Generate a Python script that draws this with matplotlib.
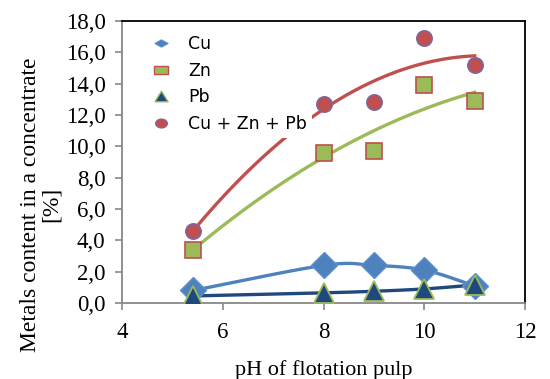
import numpy as np
from matplotlib import pyplot as plt
from matplotlib.lines import Line2D
from matplotlib.path import Path
from matplotlib.ticker import FuncFormatter

# pH of flotation pulp
ph = [5.4, 8, 9, 10, 11]

cu = [0.8, 2.4, 2.4, 2.1, 1.1]
zn = [3.4, 9.6, 9.7, 13.9, 12.9]
pb = [0.45, 0.65, 0.75, 0.9, 1.15]
total = [4.6, 12.7, 12.8, 16.9, 15.2]

names = ["Cu", "Zn", "Pb", "Cu + Zn + Pb"]


def smooth(xs, ys, n=30):
    # catmull-rom, like the excel "smoothed line"
    xs = np.asarray(xs, float)
    ys = np.asarray(ys, float)
    px = np.concatenate([[2 * xs[0] - xs[1]], xs, [2 * xs[-1] - xs[-2]]])
    py = np.concatenate([[2 * ys[0] - ys[1]], ys, [2 * ys[-1] - ys[-2]]])
    ox, oy = [], []
    for i in range(1, len(px) - 2):
        t = np.linspace(0, 1, n)
        for p, o in ((px, ox), (py, oy)):
            p0, p1, p2, p3 = p[i - 1], p[i], p[i + 1], p[i + 2]
            o.extend(0.5 * (2 * p1 + (-p0 + p2) * t
                            + (2 * p0 - 5 * p1 + 4 * p2 - p3) * t**2
                            + (-p0 + 3 * p1 - 3 * p2 + p3) * t**3))
    return ox, oy


plt.rcParams['font.family'] = ['Liberation Serif', 'DejaVu Serif']

fig = plt.figure(figsize=(5.5, 3.79), dpi=100)
ax = fig.add_axes([0.222, 0.2005, 0.7327, 0.744])

xx = np.linspace(ph[0], ph[-1], 100)

# trend lines
ax.plot(xx, np.polyval(np.polyfit(ph, total, 2), xx), color="#C0504D", lw=2.4, zorder=2)
ax.plot(xx, np.polyval(np.polyfit(ph, zn, 2), xx), color="#9BBB59", lw=2.4, zorder=2)
sx, sy = smooth(ph, cu)
ax.plot(sx, sy, color="#4F81BD", lw=2.4, zorder=2)
sx, sy = smooth(ph, pb)
ax.plot(sx, sy, color="#1F497D", lw=2.4, zorder=2)

ax.plot(ph, cu, "D", ms=13, color="#4F81BD", mec="#5B8FCB", mew=1, zorder=3)
ax.plot(ph, zn, "s", ms=11, color="#9BBB59", mec="#C0504D", mew=1.2, zorder=3)
ax.plot(ph, pb, "^", ms=14, color="#1F497D", mec="#9BBB59", mew=1.3, zorder=4)
ax.plot(ph, total, "o", ms=11, color="#C0504D", mec="#8064A2", mew=1.2, zorder=3)

ax.set_xlim(4, 12)
ax.set_ylim(0, 18)
ax.set_xticks([4, 6, 8, 10, 12])
ax.set_yticks(np.arange(0, 18.1, 2))
ax.yaxis.set_major_formatter(FuncFormatter(lambda v, p: ("%.1f" % v).replace(".", ",")))
ax.tick_params(direction="out", length=5, labelsize=16.5, width=1.2, color="#888888")
ax.tick_params(axis="y", pad=7)
ax.tick_params(axis="x", pad=9)
ax.spines["left"].set_color("#888888")
ax.spines["bottom"].set_color("#888888")
for s in ax.spines.values():
    s.set_linewidth(1.3)

ax.set_ylabel("Metals content in a concentrate\n[%]", fontsize=17, linespacing=1.0)
ax.yaxis.set_label_coords(-0.15, 0.35)
ax.set_xlabel("pH of flotation pulp", fontsize=16, labelpad=12)

# legend markers are flattened in the original
wdiam = Path([(-1, 0), (0, 0.55), (1, 0), (0, -0.55), (-1, 0)])
wsq = Path([(-1, -0.55), (1, -0.55), (1, 0.55), (-1, 0.55), (-1, -0.55)])
wtri = Path([(-0.75, -0.6), (0.75, -0.6), (0, 0.6), (-0.75, -0.6)])
th = np.linspace(0, 2 * np.pi, 40)
wcirc = Path(np.column_stack([0.85 * np.cos(th), 0.65 * np.sin(th)]))
handles = [
    Line2D([], [], ls="", marker=wdiam, ms=9.5, color="#4F81BD", mec="#5B8FCB", mew=0.8),
    Line2D([], [], ls="", marker=wsq, ms=9.5, color="#9BBB59", mec="#C0504D", mew=1),
    Line2D([], [], ls="", marker=wtri, ms=9.5, color="#1F497D", mec="#9BBB59", mew=1),
    Line2D([], [], ls="", marker=wcirc, ms=8.5, color="#C0504D", mec="#8064A2", mew=0.8),
]
leg = ax.legend(handles, names, loc="upper left", bbox_to_anchor=(0.035, 1.0),
                frameon=True, facecolor="white", edgecolor="none", framealpha=1,
                fancybox=False, borderpad=0.3, prop={"family": "DejaVu Sans", "size": 12.5},
                handlelength=1.2, handletextpad=1.0, labelspacing=0.5)
leg.set_zorder(2.5)

plt.savefig("out.png")
plt.close()
